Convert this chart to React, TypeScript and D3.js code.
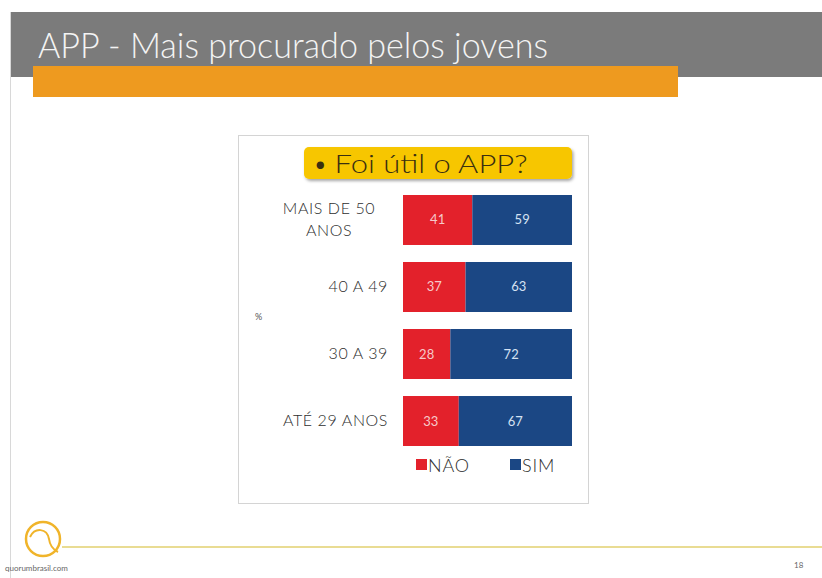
import React from "react";
import * as d3 from "d3";

const title = "APP - Mais procurado pelos jovens";
const question = "Foi útil o APP?";
const groups = ["MAIS DE 50 ANOS", "40 A 49", "30 A 39", "ATÉ 29 ANOS"];
const groupLines = [["MAIS DE 50", "ANOS"], ["40 A 49"], ["30 A 39"], ["ATÉ 29 ANOS"]];
const nao = [41, 37, 28, 33];
const sim = [59, 63, 72, 67];
const seriesNames = ["NÃO", "SIM"];
const seriesColors = ["#e3212b", "#1b4784"];

const W = 822;
const H = 578;

export default function App() {
  const x = d3.scaleLinear().domain([0, 100]).range([403, 572]);
  const y = d3.scaleBand<string>().domain(groups).range([195, 446]).paddingInner(0.254).paddingOuter(0);
  const bw = y.bandwidth();
  const font = "Lato, 'Open Sans', sans-serif";

  const stacked = groups.map((g, i) => {
    const vals = [nao[i], sim[i]];
    let acc = 0;
    return vals.map((v, k) => {
      const seg = { g, k, v, x0: acc, x1: acc + v };
      acc += v;
      return seg;
    });
  });

  return (
    <svg width={W} height={H} style={{ position: "absolute", left: 0, top: 0, background: "#fff" }}
      fontFamily={font}>
      <defs>
        <filter id="sh" x="-10%" y="-20%" width="130%" height="160%">
          <feDropShadow dx="1.5" dy="2" stdDeviation="1.5" floodColor="#000" floodOpacity="0.35" />
        </filter>
      </defs>

      {/* header */}
      <rect x={11} y={12} width={W - 11} height={65} fill="#7b7b7b" />
      <line x1={10.5} y1={12} x2={10.5} y2={H} stroke="#d8d8d8" />
      <text x={38} y={58} fill="#f4f4f4" fontSize={35} fontWeight={300}
        textLength={510} lengthAdjust="spacingAndGlyphs">{title}</text>
      <rect x={33} y={66} width={645} height={31} fill="#ee9a1f" />

      {/* chart panel */}
      <rect x={238.5} y={135.5} width={350} height={368} fill="#fff" stroke="#d4d4d4" />

      <rect x={304} y={147} width={268} height={32} rx={5} fill="#f7c600" filter="url(#sh)" />
      <text x={313} y={173} fontSize={25} fontWeight={300} fill="#3a2f10">
        <tspan>•</tspan>
        <tspan dx={7} textLength={193} lengthAdjust="spacingAndGlyphs">{question}</tspan>
      </text>

      {stacked.map((segs, i) => (
        <g key={groups[i]}>
          {segs.map((s) => (
            <g key={s.k}>
              <rect x={x(s.x0)} y={y(s.g)!} width={x(s.x1) - x(s.x0)} height={bw}
                fill={seriesColors[s.k]} />
              <text x={(x(s.x0) + x(s.x1)) / 2} y={y(s.g)! + bw / 2 + 4.5} textAnchor="middle"
                fontSize={13} fill={s.k === 0 ? "#f6c9c9" : "#d5e2f3"}>{s.v}</text>
            </g>
          ))}
          {groupLines[i].map((ln, j) => (
            <text key={j} x={groupLines[i].length > 1 ? 329 : 388}
              y={y(groups[i])! + bw / 2 + 5 + (j - (groupLines[i].length - 1) / 2) * 22}
              textAnchor={groupLines[i].length > 1 ? "middle" : "end"}
              fontSize={16} fontWeight={300} letterSpacing={0.6} fill="#2e2e2e">{ln}</text>
          ))}
        </g>
      ))}

      <text x={255} y={320} fontSize={9} fill="#555">%</text>

      {/* legend */}
      {seriesNames.map((n, k) => (
        <g key={n} transform={`translate(${416 + k * 94},0)`}>
          <rect x={0} y={459} width={11} height={11} fill={seriesColors[k]} />
          <text x={12} y={472} fontSize={18} fontWeight={300} letterSpacing={0.8} fill="#2e2e2e">{n}</text>
        </g>
      ))}

      {/* footer */}
      <circle cx={43} cy={539} r={17} fill="none" stroke="#f0b42a" strokeWidth={2.5} />
      <path d="M30,537 C35,527 47,528 49,539 C50,547 54,550 58,552" fill="none" stroke="#f0b42a" strokeWidth={2} />
      <line x1={62} y1={547} x2={W} y2={547} stroke="#e9dc93" strokeWidth={2} />
      <text x={5} y={571} fontSize={8} fill="#666">quorumbrasil.com</text>
      <text x={794} y={568} fontSize={8} fill="#666">18</text>
    </svg>
  );
}
